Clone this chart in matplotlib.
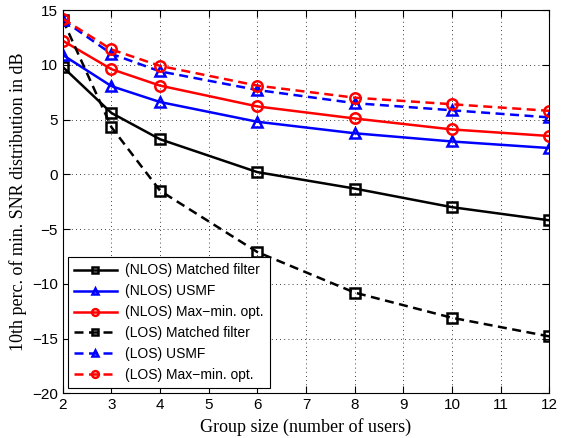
import numpy as np
import matplotlib.pyplot as plt

#%% Dados

grupo = [2, 3, 4, 6, 8, 10, 12]

nlos_mf = [9.8, 5.6, 3.2, 0.2, -1.3, -3.0, -4.2]
nlos_usmf = [10.9, 8.05, 6.6, 4.8, 3.75, 3.0, 2.4]
nlos_maxmin = [12.2, 9.6, 8.1, 6.2, 5.1, 4.1, 3.5]
los_mf = [14.1, 4.3, -1.5, -7.1, -10.8, -13.1, -14.8]
los_usmf = [14.1, 11.0, 9.4, 7.7, 6.5, 5.85, 5.2]
los_maxmin = [14.2, 11.4, 9.9, 8.1, 7.0, 6.4, 5.8]

#%% Figura

fig = plt.figure(figsize=(5.61, 4.38), dpi=100)
ax = fig.add_axes([0.112, 0.102, 0.867, 0.875])

estilo = dict(linewidth=1.8, markersize=7.5, markeredgewidth=1.8, markerfacecolor='none')
tracejado = dict(linestyle=(0, (3.6, 2.2)))

ax.plot(grupo, nlos_mf, '-s', color='k', label='(NLOS) Matched filter', **estilo)
ax.plot(grupo, nlos_usmf, '-^', color='b', label='(NLOS) USMF', **estilo)
ax.plot(grupo, nlos_maxmin, '-o', color='r', label='(NLOS) Max\u2212min. opt.', **estilo)
ax.plot(grupo, los_mf, marker='s', color='k', label='(LOS) Matched filter', **estilo, **tracejado)
ax.plot(grupo, los_usmf, marker='^', color='b', label='(LOS) USMF', **estilo, **tracejado)
ax.plot(grupo, los_maxmin, marker='o', color='r', label='(LOS) Max\u2212min. opt.', **estilo, **tracejado)

ax.set_xlim(2, 12)
ax.set_ylim(-20, 15)
ax.set_xticks(np.arange(2, 13, 1))
ax.set_yticks(np.arange(-20, 16, 5))
ax.tick_params(direction='in', top=True, right=True, labelsize=11, length=5)
for lbl in ax.get_xticklabels() + ax.get_yticklabels():
    lbl.set_family('Liberation Sans')
ax.grid(True, linestyle=(0, (1, 4)), color='k', linewidth=0.6)
ax.set_axisbelow(True)

ax.set_xlabel('Group size (number of users)', family='Liberation Serif', fontsize=13)
ax.set_ylabel('10th perc. of min. SNR distribution in dB', family='Liberation Serif', fontsize=13)

leg = ax.legend(loc='lower left', prop={'family': 'Liberation Sans', 'size': 10},
                fancybox=False, edgecolor='k', framealpha=1, borderaxespad=0.35,
                handlelength=3.1, labelspacing=0.5, borderpad=0.45, markerscale=0.65,
                handletextpad=0.6)
leg.get_frame().set_linewidth(0.8)

fig.savefig('out.png', dpi=100)
